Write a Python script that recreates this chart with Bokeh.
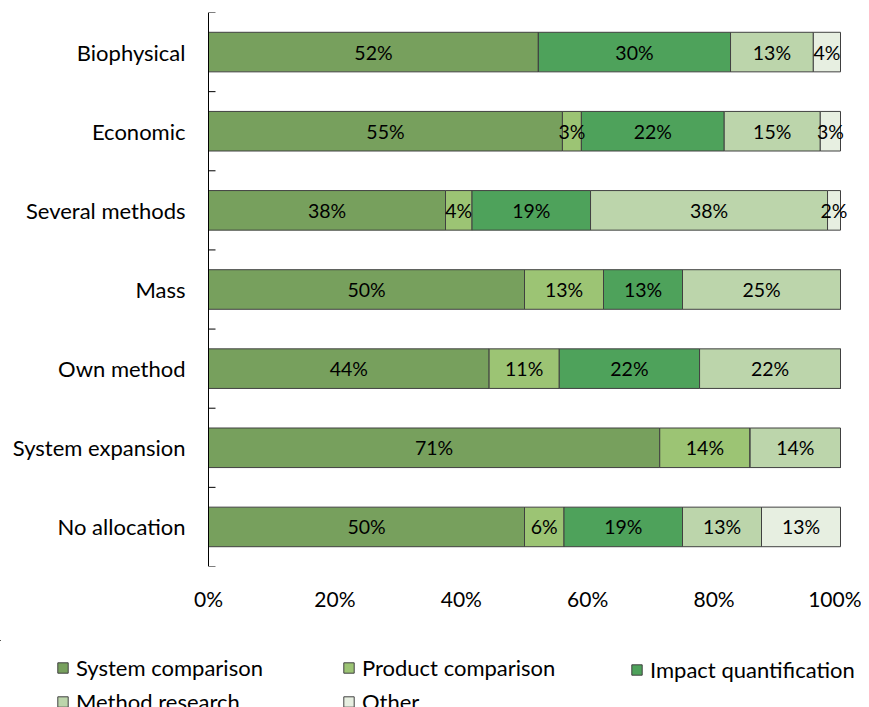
from bokeh.plotting import figure
from bokeh.layouts import column
from bokeh.models import (Range1d, FixedTicker, LinearAxis, Legend, LegendItem,
                          ColumnDataSource)
from bokeh.core.properties import value
from bokeh.embed import file_html
from bokeh.resources import INLINE

# ---------------- data ----------------
categories = ["Biophysical", "Economic", "Several methods", "Mass",
              "Own method", "System expansion", "No allocation"]
series_names = ["System comparison", "Product comparison", "Impact quantification",
                "Method research", "Other"]
system_comparison = [52.2, 56.0, 37.5, 50.0, 44.4, 71.4, 50.0]
product_comparison = [0.0, 3.0, 4.2, 12.5, 11.1, 14.3, 6.25]
impact_quantification = [30.4, 22.6, 18.75, 12.5, 22.2, 0.0, 18.75]
method_research = [13.1, 15.2, 37.5, 25.0, 22.3, 14.3, 12.5]
other = [4.3, 3.2, 2.05, 0.0, 0.0, 0.0, 12.5]

label_system = ["52%", "55%", "38%", "50%", "44%", "71%", "50%"]
label_product = ["", "3%", "4%", "13%", "11%", "14%", "6%"]
label_impact = ["30%", "22%", "19%", "13%", "22%", "", "19%"]
label_method = ["13%", "15%", "38%", "25%", "22%", "14%", "13%"]
label_other = ["4%", "3%", "2%", "", "", "", "13%"]

x_ticks = [0, 20, 40, 60, 80, 100]
x_tick_labels = ["0%", "20%", "40%", "60%", "80%", "100%"]

colors = ["#77A05D", "#9CC474", "#4EA25B", "#BCD5AB", "#E7EFE1"]

FONT = "Lato"

series = [system_comparison, product_comparison, impact_quantification,
          method_research, other]
labels = [label_system, label_product, label_impact, label_method, label_other]

n = len(categories)
ypos = [i + 0.5 for i in range(n)]

# ---------------- layout constants (pixels) ----------------
W = 861            # total width
LEFT = 208         # pixel position of 0 %
PLOT_W = 632       # pixels for 0..100 %
px = PLOT_W / 100.0

p = figure(width=W, frame_width=W, frame_height=554,
           min_border_left=0, min_border_right=0, min_border_top=12,
           min_border_bottom=74,
           x_range=Range1d(-LEFT / px, (W - LEFT) / px), y_range=Range1d(n, 0),
           output_backend="svg", toolbar_location=None,
           x_axis_location=None, y_axis_location=None)
p.outline_line_color = None
p.xgrid.visible = False
p.ygrid.visible = False
p.background_fill_color = "white"
p.border_fill_color = "white"

data = {"y": ypos}
for name, vals in zip(series_names, series):
    data[name] = vals
src = ColumnDataSource(data)

renderers = p.hbar_stack(series_names, y="y", height=0.5, color=colors,
                         line_color="#404040", line_width=1, source=src)

# data labels
lx, ly, lt = [], [], []
for i in range(n):
    left = 0.0
    for vals, labs in zip(series, labels):
        v = vals[i]
        if v > 0 and labs[i]:
            lx.append(left + v / 2.0)
            ly.append(ypos[i])
            lt.append(labs[i])
        left += v
p.text(x=lx, y=ly, text=lt, text_align="center", text_baseline="middle",
       text_font=value(FONT), text_font_size="19.5px", text_color="#000000")

# category axis: line at 0 %, small inward ticks at category boundaries, labels
p.segment(x0=[0], y0=[0], x1=[0], y1=[n], line_color="#000000", line_width=1)
bounds = list(range(n + 1))
p.segment(x0=[0] * len(bounds), y0=bounds, x1=[7 / px] * len(bounds), y1=bounds,
          line_color="#000000", line_width=1)
p.text(x=[0] * n, y=ypos, text=categories, x_offset=-23,
       text_align="right", text_baseline="middle",
       text_font=value(FONT), text_font_size="22px", text_color="#000000")

xaxis = LinearAxis(ticker=FixedTicker(ticks=x_ticks, minor_ticks=[]),
                   major_label_overrides={t: l for t, l in zip(x_ticks, x_tick_labels)})
xaxis.axis_line_color = None
xaxis.major_tick_line_color = None
xaxis.minor_tick_line_color = None
xaxis.major_tick_out = 0
xaxis.major_tick_in = 0
xaxis.major_label_standoff = 19
xaxis.major_label_text_font = FONT
xaxis.major_label_text_font_size = "21px"
xaxis.major_label_text_color = "#000000"
p.add_layout(xaxis, "below")

# ---------------- legend strip (own small figure) ----------------
leg_h = 67
lf = figure(width=W, height=leg_h, min_border=0,
            x_range=Range1d(1000, 1100), y_range=Range1d(-10, -9),
            output_backend="svg", toolbar_location=None,
            x_axis_location=None, y_axis_location=None)
lf.outline_line_color = None
lf.xgrid.visible = False
lf.ygrid.visible = False
lf.background_fill_color = "white"
lf.border_fill_color = "white"

# same bars, kept outside this strip's visible ranges: only their legend swatches show
leg_renderers = lf.hbar_stack(series_names, y="y", height=0.5, color=colors,
                              line_color="#404040", line_width=1, source=src)

legend_columns = [[0, 3], [1, 4], [2]]
legend_x = [56, 342, 630]
row_h, row_gap, top_off = 25, 7, 17.5
for cx, idxs in zip(legend_x, legend_columns):
    k = len(idxs)
    h = k * row_h + (k - 1) * row_gap
    leg = Legend(items=[LegendItem(label=series_names[j], renderers=[leg_renderers[j]])
                        for j in idxs],
                 location=(cx, leg_h - top_off - h), orientation="vertical",
                 glyph_width=13, glyph_height=13, label_standoff=7,
                 label_height=row_h, spacing=row_gap, padding=0, margin=0,
                 border_line_color=None, background_fill_alpha=0,
                 label_text_font=FONT, label_text_font_size="22px",
                 label_text_color="#000000")
    lf.add_layout(leg, "center")

layout = column(p, lf, spacing=0)
open("out.html", "w").write(file_html(layout, INLINE))
